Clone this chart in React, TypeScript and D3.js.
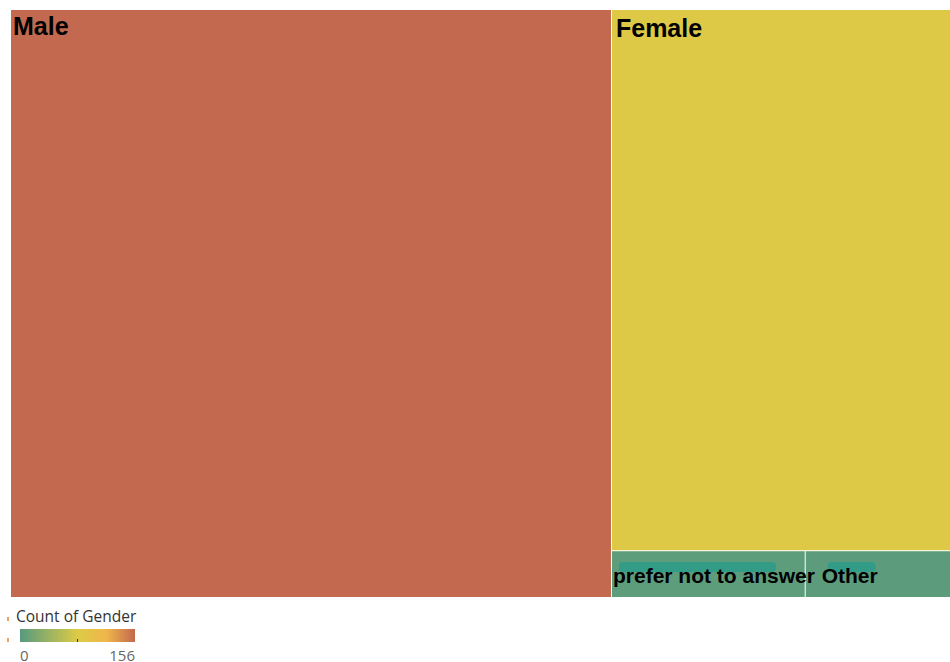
import React from "react";
import * as d3 from "d3";

const categories = ["Male", "Female", "prefer not to answer", "Other"];
const counts = [156, 81, 4, 3];
const legendTitle = "Count of Gender";
const legendTicks = ["0", "156"];

const W = 950;
const H = 662;
const X0 = 11, Y0 = 10, X1 = 950, Y1 = 597;

// label styling per cell (positions relative to the cell)
const labelDx = [2, 4, 1, 16];
const labelDy = [25, 27, -14, -14];
const labelSize = [25, 25, 21, 21];
const highlightW = [0, 0, 157, 48];

export default function App() {
  const data = categories.map((c, i) => ({ name: c, value: counts[i], idx: i }));
  const root = d3
    .hierarchy<any>({ name: "root", children: data })
    .sum((d: any) => d.value || 0)
    .sort((a, b) => (b.value || 0) - (a.value || 0));
  d3.treemap<any>()
    .tile(d3.treemapSquarify)
    .size([X1 - X0, Y1 - Y0])
    .paddingInner(1)
    .round(false)(root);

  const maxV = d3.max(counts) || 1;
  const color = d3
    .scaleLinear<string>()
    .domain([0, maxV * 0.5, maxV * 0.75, maxV])
    .range(["#579a7f", "#dccb46", "#f0b64a", "#c3694f"]);

  const leaves = root.leaves() as any[];
  const lx0 = 20, lx1 = 135, ly = 629, lh = 13;
  const lscale = d3.scaleLinear().domain([0, maxV]).range([lx0, lx1]);
  const stops = d3.range(0, 1.0001, 0.05);

  const labelPos = (l: any) => {
    const i = l.data.idx;
    const x = l.x0 + labelDx[i];
    const y = labelDy[i] > 0 ? l.y0 + labelDy[i] : l.y1 + labelDy[i];
    return { x, y, i };
  };

  return (
    <svg
      width={W}
      height={H}
      style={{ position: "absolute", left: 0, top: 0, display: "block", background: "#fff" }}
    >
      <defs>
        <linearGradient id="lg" x1="0" x2="1" y1="0" y2="0">
          {stops.map((t) => (
            <stop key={t} offset={`${t * 100}%`} stopColor={color(t * maxV)} />
          ))}
        </linearGradient>
      </defs>
      <g transform={`translate(${X0},${Y0})`}>
        {leaves.map((l) => (
          <rect
            key={l.data.name}
            x={l.x0}
            y={l.y0}
            width={l.x1 - l.x0}
            height={l.y1 - l.y0}
            fill={color(l.value)}
          />
        ))}
        {leaves.map((l) => {
          const { x, i } = labelPos(l);
          if (!highlightW[i]) return null;
          return (
            <rect
              key={"h" + l.data.name}
              x={x + 6}
              y={l.y1 - 35}
              width={highlightW[i]}
              height={10}
              rx={4}
              fill="#2c9c8a"
              opacity={0.85}
            />
          );
        })}
        {leaves.map((l) => {
          const { x, y, i } = labelPos(l);
          return (
            <text
              key={"t" + l.data.name}
              x={x}
              y={y}
              fontFamily="Liberation Sans, Arial, sans-serif"
              fontWeight="bold"
              fontSize={labelSize[i]}
              fill="#000"
            >
              {l.data.name}
            </text>
          );
        })}
      </g>
      <rect x={7} y={617} width={2} height={4} fill="#f0a060" />
      <rect x={7} y={638} width={2} height={4} fill="#f0a060" />
      <text x={16} y={622} fontFamily="Open Sans, sans-serif" fontSize={15.5} fill="#333">
        {legendTitle}
      </text>
      <rect x={lx0} y={ly} width={lx1 - lx0} height={lh} fill="url(#lg)" />
      <line
        x1={lscale(maxV / 2)}
        x2={lscale(maxV / 2)}
        y1={ly + lh - 3}
        y2={ly + lh}
        stroke="#333"
        strokeWidth={1}
      />
      <text x={lx0} y={661} fontFamily="Open Sans, sans-serif" fontSize={15} fill="#666">
        {legendTicks[0]}
      </text>
      <text x={lx1} y={661} textAnchor="end" fontFamily="Open Sans, sans-serif" fontSize={15} fill="#666">
        {legendTicks[1]}
      </text>
    </svg>
  );
}
